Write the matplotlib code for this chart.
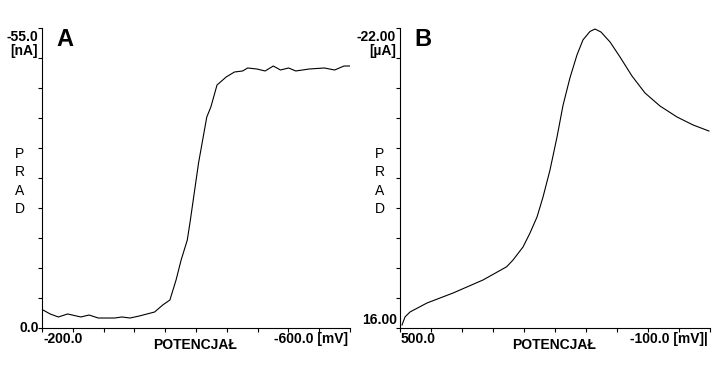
import numpy as np
import matplotlib.pyplot as plt

# Panel A: potential [mV] vs current [nA]
pot_a = [-201.3, -210.6, -221.3, -233.2, -250.5, -261.1, -273.1, -294.4, -303.7,
         -314.3, -326.3, -346.2, -356.8, -366.1, -374.1, -380.7, -388.7, -392.7,
         -403.3, -414.0, -419.3, -427.3, -439.2, -449.9, -460.5, -467.1, -479.1,
         -489.7, -500.4, -509.7, -520.3, -529.6, -546.9, -566.8, -580.1, -592.1,
         -601.4]
cur_a = [-3.30, -2.57, -2.02, -2.57, -2.02, -2.38, -1.83, -1.83, -2.02,
         -1.83, -2.20, -2.93, -4.22, -5.13, -8.80, -12.47, -16.13, -19.80,
         -30.25, -38.68, -40.52, -44.55, -46.02, -46.93, -47.12, -47.67, -47.48,
         -47.12, -48.03, -47.30, -47.67, -47.12, -47.48, -47.67, -47.30, -48.03,
         -48.03]

# Panel B: potential [mV] vs current [uA]
pot_b = [496.1, 490.3, 480.6, 447.7, 397.4, 339.4, 293.5, 281.3, 261.9, 248.4,
         234.8, 223.2, 209.7, 196.1, 184.5, 171.0, 157.4, 145.8, 132.3, 122.6,
         111.0, 93.5, 74.2, 51.0, 25.8, -3.2, -36.1, -67.1, -98.0]
cur_b = [15.62, 14.60, 13.97, 12.83, 11.57, 9.92, 8.24, 7.39, 5.74, 3.97,
         1.94, -0.59, -4.01, -8.19, -12.20, -15.70, -18.60, -20.50, -21.56, -21.87,
         -21.49, -20.23, -18.33, -15.92, -13.77, -12.12, -10.73, -9.72, -8.95]

W, H = 720, 384
plt.rcParams['font.family'] = ['Liberation Sans', 'DejaVu Sans']

fig = plt.figure(figsize=(W / 100, H / 100), dpi=100)


def px(x, y):
    return x / W, 1 - y / H


def panel(left, right, pot, cur, xlim, ylim, top_lbl, unit, bot_lbl, bot_y,
          x_lbl_l, x_lbl_r, letter, letter_x, prad_x):
    ax = fig.add_axes([left / W, (H - 328) / H, (right - left) / W, 300 / H])
    ax.plot(pot, cur, color='black', lw=0.8)
    ax.set_xlim(*xlim)
    ax.set_ylim(*ylim)
    ax.set_xticks(np.linspace(xlim[0], xlim[1], 11))
    ax.set_yticks(np.linspace(ylim[0], ylim[1], 11))
    ax.set_xticklabels([])
    ax.set_yticklabels([])
    ax.tick_params(direction='out', length=3, width=0.8)
    for s in ['top', 'right']:
        ax.spines[s].set_visible(False)
    for s in ['left', 'bottom']:
        ax.spines[s].set_linewidth(0.8)

    kw = dict(fontsize=10, fontweight='bold')
    fig.text(*px(left - 4, 37), top_lbl, ha='right', va='center', **kw)
    fig.text(*px(left - 4, 51), unit, ha='right', va='center', **kw)
    fig.text(*px(left - 3, bot_y), bot_lbl, ha='right', va='center', **kw)
    fig.text(*px(left + 1, 339), x_lbl_l, ha='left', va='center', **kw)
    fig.text(*px(right - 2, 339), x_lbl_r, ha='right', va='center', **kw)
    fig.text(*px((left + right) / 2 - 1, 345), 'POTENCJAŁ', ha='center', va='center', **kw)
    fig.text(*px(letter_x, 40), letter, ha='left', va='center', fontsize=17, fontweight='bold')
    for ch, yy in zip('PRAD', [154, 172, 191, 209]):
        fig.text(*px(prad_x, yy), ch, ha='center', va='center', fontsize=10)
    return ax


panel(42, 350, pot_a, cur_a, (-200, -600), (0, -55), '-55.0', '[nA]', '0.0', 328,
      '-200.0', '-600.0 [mV]', 'A', 56, 20)
panel(400, 710, pot_b, cur_b, (500, -100), (16, -22), '-22.00', '[µA]', '16.00', 320,
      '500.0', '-100.0 [mV]|', 'B', 414, 380)

fig.savefig('out.png', dpi=100)
